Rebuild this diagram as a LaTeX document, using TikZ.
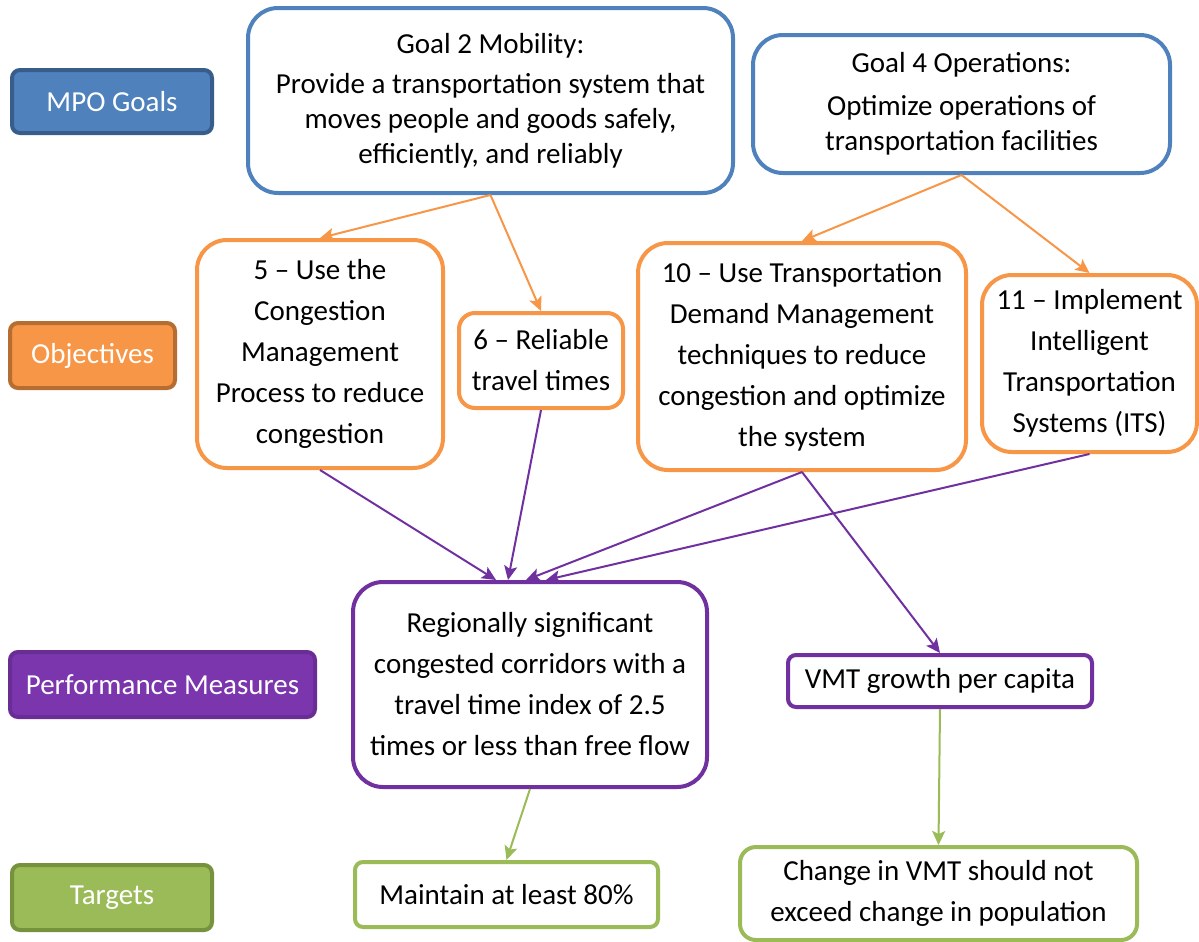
\documentclass[tikz,border=0pt]{standalone}
\usepackage{fontspec}
\setmainfont{Carlito}
\usetikzlibrary{arrows.meta}
\definecolor{goalblue}{HTML}{4F81BD}
\definecolor{goaldark}{HTML}{385D8A}
\definecolor{objorange}{HTML}{F79646}
\definecolor{objdark}{HTML}{B66D31}
\definecolor{pmpurple}{HTML}{7030A0}
\definecolor{pmfill}{HTML}{7B36AE}
\definecolor{pmdark}{HTML}{6A2D96}
\definecolor{tgtgreen}{HTML}{9BBB59}
\definecolor{tgtdark}{HTML}{76923C}

\begin{document}
\begin{tikzpicture}[x=.5pt,y=-.5pt,>={Stealth[length=7pt,width=6.5pt,inset=1.5pt]},
 lbl/.style={draw,line width=2pt,rounded corners=4pt,text=white,inner sep=0pt,
  font=\fontsize{14.5}{17.5}\selectfont},
 box/.style={draw,line width=2pt,fill=white,align=center,inner sep=0pt,
  rounded corners=15pt,font=\fontsize{14.5}{20.5}\selectfont},
 arr/.style={->,line width=1pt}]
 \useasboundingbox (0,0) rectangle (1199,942);
 % row labels
 \node[lbl,fill=goalblue,draw=goaldark,minimum width=100pt,minimum height=31.5pt](mpo)at(112,101.5){MPO Goals};
 \node[lbl,fill=objorange,draw=objdark,minimum width=82.5pt,minimum height=32.5pt](objl)at(92.5,355.5){Objectives};
 \node[lbl,fill=pmfill,draw=pmdark,minimum width=152.5pt,minimum height=32.5pt](pml)at(162.5,684.5){Performance Measures};
 \node[lbl,fill=tgtgreen,draw=tgtdark,minimum width=100pt,minimum height=32.5pt](tgtl)at(112,897.5){Targets};
 % goals
 \node[box,draw=goalblue,minimum width=242.5pt,minimum height=92.5pt,font=\fontsize{14.5}{17.5}\selectfont](goal2)at(490.5,100.5)
  {Goal 2 Mobility:\\[2.5pt]Provide a transportation system that\\moves people and goods safely,\\efficiently, and reliably};
 \node[box,draw=goalblue,minimum width=208.5pt,minimum height=69pt,font=\fontsize{14.5}{17.5}\selectfont](goal4)at(961.5,104)
  {Goal 4 Operations:\\[4pt]Optimize operations of\\transportation facilities};
 % objectives
 \node[box,draw=objorange,minimum width=123pt,minimum height=114pt](obj5)at(320,354)
  {5 -- Use the\\Congestion\\Management\\Process to reduce\\congestion};
 \node[box,draw=objorange,minimum width=82pt,minimum height=47.5pt,rounded corners=8pt](obj6)at(541,360.5)
  {6 -- Reliable\\travel times};
 \node[box,draw=objorange,minimum width=164pt,minimum height=113.5pt](obj10)at(802,356.5)
  {10 -- Use Transportation\\Demand Management\\techniques to reduce\\congestion and optimize\\the system};
 \node[box,draw=objorange,minimum width=107.5pt,minimum height=88.5pt](obj11)at(1089.5,363.5)
  {11 -- Implement\\Intelligent\\Transportation\\Systems (ITS)};
 % performance measures
 \node[box,draw=pmpurple,minimum width=177pt,minimum height=102.5pt](pm1)at(530,684.5)
  {Regionally significant\\congested corridors with a\\travel time index of 2.5\\times or less than free flow};
 \node[box,draw=pmpurple,minimum width=152pt,minimum height=26pt,rounded corners=4pt](vmt)at(940,681)
  {VMT growth per capita};
 % targets
 \node[box,draw=tgtgreen,minimum width=151.5pt,minimum height=32.5pt,rounded corners=4pt](t1)at(506.5,894.5)
  {Maintain at least 80\%};
 \node[box,draw=tgtgreen,minimum width=198.5pt,minimum height=46.5pt,rounded corners=8pt](t2)at(938.5,893.5)
  {Change in VMT should not\\exceed change in population};
 % connectors
 \draw[arr,objorange](goal2.south)--(obj5.north);
 \draw[arr,objorange](goal2.south)--(obj6.north);
 \draw[arr,objorange](goal4.south)--(obj10.north);
 \draw[arr,objorange](goal4.south)--(obj11.north);
 \draw[arr,pmpurple](obj5.south)--([xshift=-17pt]pm1.north);
 \draw[arr,pmpurple](obj6.south)--([xshift=-11pt]pm1.north);
 \draw[arr,pmpurple](obj10.south)--([xshift=-2pt]pm1.north);
 \draw[arr,pmpurple](obj11.south)--([xshift=8pt]pm1.north);
 \draw[arr,pmpurple](obj10.south)--(vmt.north);
 \draw[arr,tgtgreen](pm1.south)--(t1.north);
 \draw[arr,tgtgreen](vmt.south)--(t2.north);
\end{tikzpicture}
\end{document}
